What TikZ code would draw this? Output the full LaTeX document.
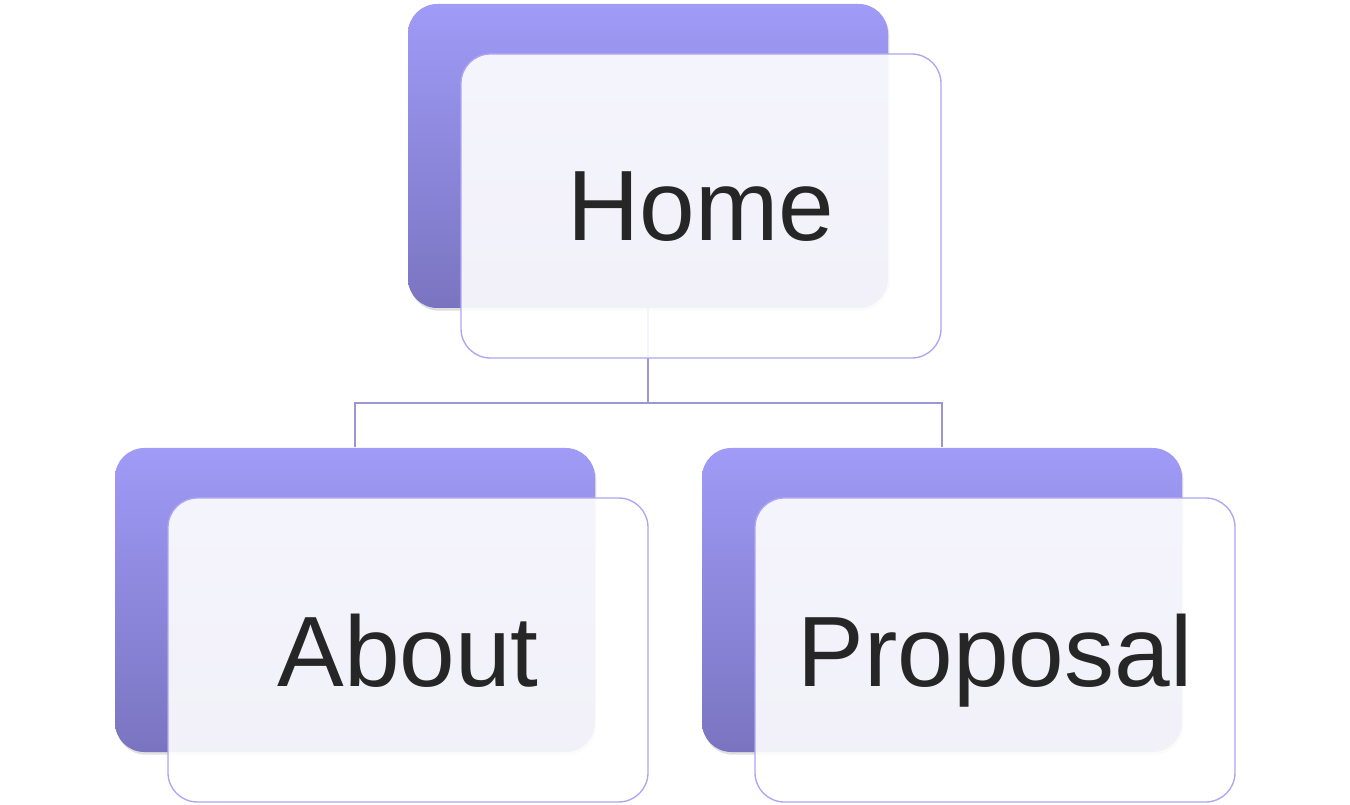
\documentclass[tikz,border=0pt]{standalone}
\usepackage{fontspec}
\setmainfont{Liberation Sans}
\usetikzlibrary{shadows}

\definecolor{backtop}{HTML}{9F9BF7}
\definecolor{backbot}{HTML}{7A74C0}
\definecolor{frontline}{HTML}{ADA5F3}
\definecolor{linkcol}{HTML}{9C96D2}
\definecolor{labelcol}{HTML}{262626}

\tikzset{every picture/.style={line width=0.75pt}}
\tikzset{
  backbox/.style={rounded corners=22pt, minimum width=360pt, minimum height=228pt,
    top color=backtop, bottom color=backbot, draw=none,
    drop shadow={shadow xshift=1pt, shadow yshift=-2pt, opacity=0.25}},
  frontbox/.style={rounded corners=22pt, minimum width=360pt, minimum height=228pt,
    draw=frontline, line width=1pt, fill=white, fill opacity=0.9, text opacity=1,
    text=labelcol, font=\fontsize{75}{80}\selectfont, text depth=-1.5pt},
  link/.style={draw=linkcol, line width=1.1pt}
}

\begin{document}
\begin{tikzpicture}[x=0.75pt,y=0.75pt,yscale=-1,xscale=1]
        \useasboundingbox (0,0) rectangle (1350,805);

        % back panels
        \node[backbox] (homeback) at (648,156) {};
        \node[backbox] (aboutback) at (355,600) {};
        \node[backbox] (proposalback) at (942,600) {};

        % connectors
        \coordinate (bus) at (648,403);
        \draw[link] (homeback.south) -- (bus) -| (aboutback.north);
        \draw[link] (bus) -| (proposalback.north);

        % front panels
        \node[frontbox] (home) at (701,206) {Home};
        \node[frontbox] (about) at (408,650) {About};
        \node[frontbox] (proposal) at (995,650) {Proposal};
    \end{tikzpicture}
\end{document}
